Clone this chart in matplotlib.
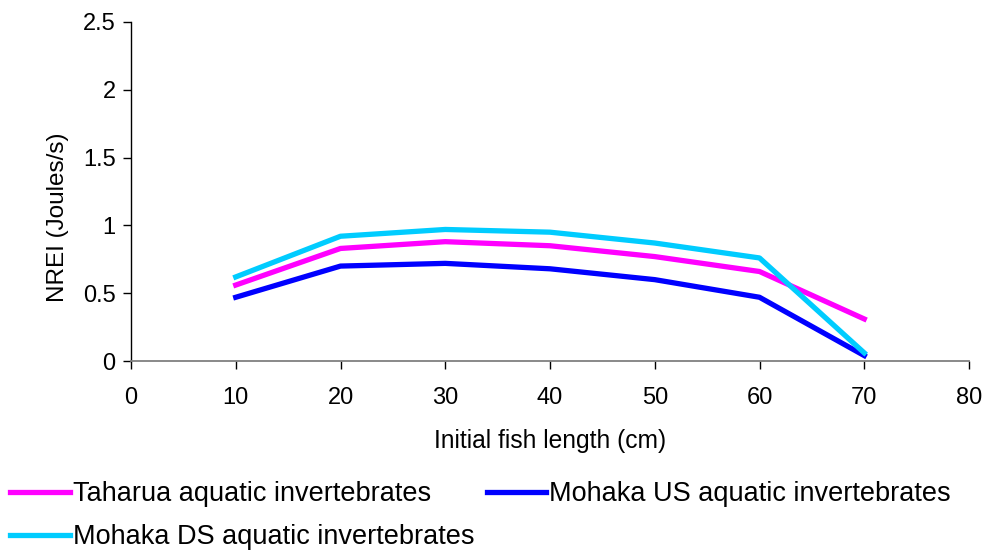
import matplotlib
matplotlib.use("Agg")
import matplotlib.pyplot as plt

plt.rcParams['font.family'] = ['Liberation Sans', 'DejaVu Sans']

# initial fish length (cm)
lengths = [10, 20, 30, 40, 50, 60, 70]

# NREI (Joules/s)
taharua = [0.56, 0.83, 0.88, 0.85, 0.77, 0.66, 0.31]
mohaka_us = [0.47, 0.70, 0.72, 0.68, 0.60, 0.47, 0.04]
mohaka_ds = [0.62, 0.92, 0.97, 0.95, 0.87, 0.76, 0.06]

labels = ["Taharua aquatic invertebrates",
          "Mohaka US aquatic invertebrates",
          "Mohaka DS aquatic invertebrates"]
colors = ["#ff00ff", "#0000ff", "#00ccff"]

fig = plt.figure(figsize=(9.88, 5.5), dpi=100)
ax = fig.add_axes([131 / 988, 1 - 361 / 550, (969 - 131) / 988, (361 - 22) / 550])

l1, = ax.plot(lengths, taharua, color=colors[0], lw=3.8, label=labels[0])
l2, = ax.plot(lengths, mohaka_us, color=colors[1], lw=3.8, label=labels[1])
l3, = ax.plot(lengths, mohaka_ds, color=colors[2], lw=3.8, label=labels[2])

ax.set_xlim(0, 80)
ax.set_ylim(0, 2.5)
ax.set_xticks(range(0, 81, 10))
ax.set_yticks([0, 0.5, 1, 1.5, 2, 2.5])
ax.set_yticklabels(["0", "0.5", "1", "1.5", "2", "2.5"])

for s in ["top", "right"]:
    ax.spines[s].set_visible(False)
ax.spines["left"].set_color("black")
ax.spines["bottom"].set_color("#808080")
ax.spines["left"].set_linewidth(1.0)
ax.spines["bottom"].set_linewidth(1.3)
ax.tick_params(axis="both", direction="out", length=6, width=1.0, labelsize=17)
ax.tick_params(axis="y", pad=5)
ax.tick_params(axis="x", pad=13)

ax.set_xlabel("Initial fish length (cm)", fontsize=17.7, labelpad=14)
ax.set_ylabel("NREI (Joules/s)", fontsize=17.5, labelpad=10, y=0.425)

# column 1 holds Taharua + Mohaka DS, column 2 holds Mohaka US
fig.legend([l1, l3, l2], [labels[0], labels[2], labels[1]],
           ncol=2, loc="upper left", bbox_to_anchor=(10 / 988, 1 - 481 / 550),
           frameon=False, fontsize=19.5, borderpad=0, borderaxespad=0,
           handlelength=2.2, handletextpad=0.12, columnspacing=0.45,
           labelspacing=0.64)

fig.savefig("out.png", dpi=100)
